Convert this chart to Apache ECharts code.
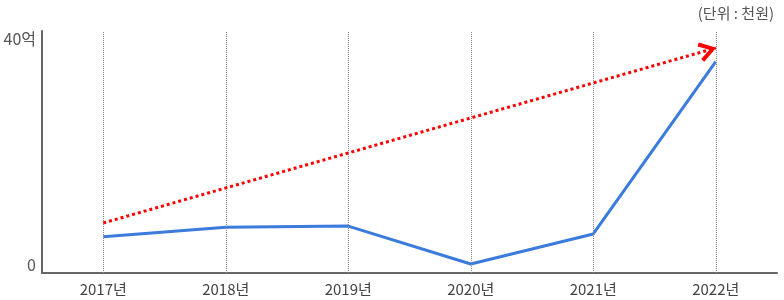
<!DOCTYPE html>
<html>
<head>
<meta charset="utf-8">
<script src="https://cdn.jsdelivr.net/npm/echarts@6/dist/echarts.min.js"></script>
<style>html,body{margin:0;padding:0;background:#fff;}#c{width:784px;height:300px;}</style>
</head>
<body>
<div id="c"></div>
<script>
var categories = ['2017년','2018년','2019년','2020년','2021년','2022년'];
var values = [6.4, 8.1, 8.3, 1.6, 6.9, 37.4];
var trendStart = 8.85;
var trendEnd = 39.8;
var yTickLabels = {0: '0', 40: '40억'};
var unitText = '(단위 : 천원)';

var FONT = 'Noto Sans CJK KR';
var chart = echarts.init(document.getElementById('c'), null, {renderer: 'canvas'});
chart.setOption({
  animation: false,
  textStyle: {fontFamily: FONT},
  title: {
    text: unitText, right: 5, top: 1,
    textStyle: {fontFamily: FONT, fontSize: 15, fontWeight: 'normal', color: '#555'}
  },
  grid: {left: 42, right: 7, top: 31, bottom: 27},
  xAxis: {
    type: 'category', data: categories, boundaryGap: true,
    axisLine: {lineStyle: {color: '#666', width: 2}},
    axisTick: {show: false},
    axisLabel: {color: '#444', fontSize: 15, margin: 9, fontFamily: FONT},
    splitLine: {show: false}
  },
  yAxis: {
    type: 'value', min: 0, max: 42.8, interval: 40,
    axisLine: {show: true, lineStyle: {color: '#666', width: 2}},
    axisTick: {show: false},
    splitLine: {show: false},
    axisLabel: {
      color: '#555', fontSize: 16, margin: 6, verticalAlign: 'bottom', fontFamily: FONT,
      showMaxLabel: false,
      formatter: function (v) { return yTickLabels[v] !== undefined ? yTickLabels[v] : ''; }
    }
  },
  series: [
    {
      type: 'line', data: [], silent: true,
      markLine: {
        silent: true, symbol: ['none', 'none'], label: {show: false},
        lineStyle: {color: '#888', type: 'dotted', width: 1},
        data: categories.map(function (c) { return {xAxis: c}; })
      }
    },
    {
      type: 'line', data: values, symbol: 'none', silent: true,
      lineStyle: {color: '#3a7bdc', width: 3}
    },
    {
      type: 'line', data: [], silent: true,
      markLine: {
        silent: true,
        symbol: ['none', 'path://M10,15 L20,29 L16.5,31 L10,21.5 L3.5,31 L0,29 Z M10,0 L10.1,0 L10,0.1 Z'],
        symbolSize: [20, 34],
        label: {show: false},
        lineStyle: {color: '#ff0000', type: 'dotted', width: 3},
        itemStyle: {color: '#ff0000'},
        data: [[{coord: [categories[0], trendStart]}, {coord: [categories[5], trendEnd]}]]
      }
    }
  ]
});
</script>
</body>
</html>
